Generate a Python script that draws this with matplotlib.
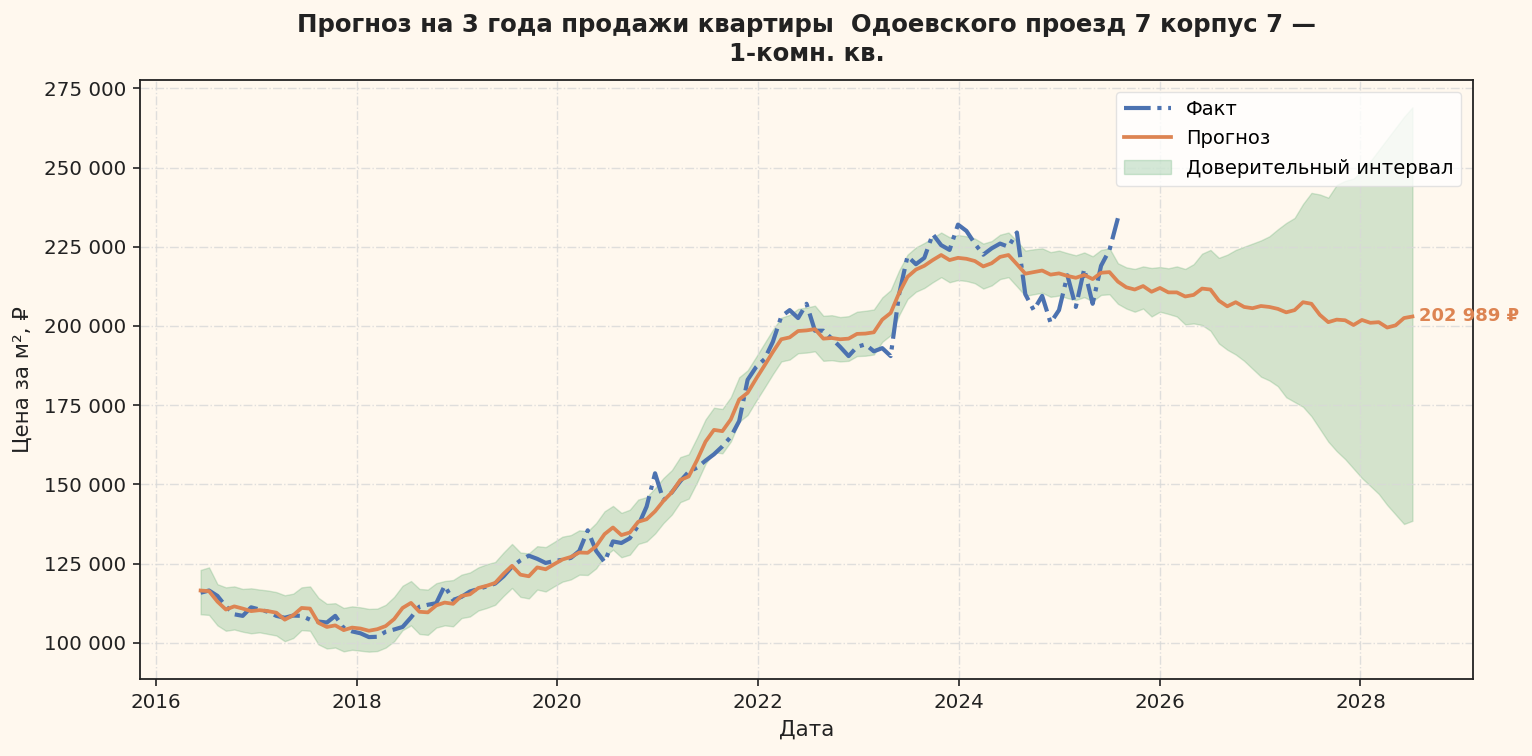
import numpy as np
import pandas as pd
import matplotlib
matplotlib.use("Agg")
import matplotlib.pyplot as plt
import matplotlib.dates as mdates
from matplotlib.ticker import FuncFormatter

# monthly points, mid-2016 .. mid-2028
dates = pd.date_range(start="2016-06-12", end="2028-07-08", periods=145)

fact = [
    115800, 116500, 114800, 111500, 109000, 108500, 111200, 110500, 109800, 108500,
    107900, 108600, 108500, 107300, 106700, 106400, 108500, 104700, 103600, 103000,
    101800, 101900, 103500, 104200, 105000, 108000, 111400, 112000, 112500, 118000,
    113500, 114500, 116200, 117000, 117800, 118700, 121000, 124000, 126000, 127500,
    126500, 125200, 125800, 126200, 126800, 129000, 135500, 129000, 125500, 132000,
    131500, 133000, 137000, 143000, 153500, 145000, 147500, 151000, 154000, 155300,
    157500, 159500, 162000, 165000, 170000, 183000, 187000, 189500, 195000, 203000,
    205000, 202500, 207000, 198500, 198500, 196000, 193400, 190500, 193400, 194200,
    192000, 193000, 190500, 210000, 222000, 219500, 221500, 229000, 225500, 224000,
    232000, 230000, 226000, 222500, 224500, 226000, 225000, 229500, 210000, 205000,
    209500, 201000, 205000, 216000, 206000, 218000, 207000, 219000, 224000, 234000,
]

forecast = [
    116500, 116300, 113000, 110500, 111500, 110800, 110000, 110300, 110000, 109500,
    107300, 108700, 111000, 110800, 106300, 105000, 105500, 104000, 104800, 104500,
    103800, 104300, 105300, 107500, 111000, 112600, 109800, 109600, 111800, 112700,
    112300, 114800, 115300, 117300, 118000, 118900, 121800, 124300, 121500, 121000,
    123800, 123200, 124800, 126300, 127100, 128500, 128400, 130500, 134300, 136400,
    134000, 134800, 138200, 139000, 141500, 144800, 147500, 151400, 152500, 157700,
    163500, 167200, 166800, 170500, 176800, 178900, 183300, 187500, 191800, 195800,
    196400, 198400, 198600, 199000, 196000, 196200, 195800, 196000, 197500, 197600,
    198000, 202000, 204100, 210400, 215500, 217800, 219000, 220800, 222400, 220800,
    221500, 221200, 220500, 218800, 219800, 221800, 222400, 219500, 216500, 217000,
    217500, 216200, 216600, 215800, 215200, 216100, 214800, 216800, 217000, 214000,
    212200, 211500, 212600, 210800, 212000, 210600, 210600, 209300, 209800, 211800,
    211500, 208000, 206200, 207500, 206000, 205600, 206300, 206000, 205400, 204300,
    205000, 207500, 207000, 203500, 201200, 202000, 201800, 200300, 201900, 201000,
    201200, 199500, 200200, 202500, 202989,
]

ci_upper = [
    123000, 123800, 118500, 117500, 117800, 117000, 117200, 116800, 116500, 116000,
    115000, 115500, 117500, 117800, 114200, 112300, 112500, 111000, 111500, 111200,
    110700, 110800, 112000, 114500, 118000, 119500, 117000, 116800, 118800, 119500,
    119800, 121500, 122200, 123800, 124800, 125500, 128500, 131200, 128500, 128200,
    130500, 130200, 131800, 133500, 134000, 135500, 135200, 137800, 141500, 143200,
    141000, 142000, 145200, 146000, 148800, 152000, 154500, 158600, 159500, 164800,
    170500, 174200, 173800, 177500, 183800, 186000, 190200, 194500, 198800, 202600,
    203500, 205400, 205800, 206400, 203200, 203400, 202800, 203100, 204500, 204800,
    205200, 209000, 211300, 217500, 222500, 224800, 226200, 227800, 229500, 228000,
    228700, 228300, 227600, 226000, 226800, 228800, 229500, 226800, 223800, 224200,
    224500, 223300, 223800, 223000, 222300, 223200, 222000, 224000, 224500, 219800,
    218500, 218000, 218800, 218300, 218600, 218200, 218800, 218000, 219500, 222800,
    224000, 221500, 222500, 224000, 225000, 226000, 227000, 228300, 230500, 232500,
    234100, 238500, 242000, 241500, 240500, 244500, 245800, 246500, 249000, 252000,
    255500, 259000, 262500, 266000, 269000,
]

ci_lower = [
    109000, 108800, 105500, 103800, 104200, 103500, 103000, 103300, 102800, 102300,
    100500, 101500, 104000, 103800, 99500, 98200, 98500, 97300, 97800, 97500,
    97200, 97400, 98500, 100500, 104000, 105500, 102800, 102500, 104800, 105500,
    105200, 107800, 108300, 110200, 111000, 112000, 114800, 117300, 114500, 114000,
    116800, 116200, 117800, 119300, 120000, 121500, 121400, 123500, 127300, 129400,
    127000, 127800, 131200, 132000, 134500, 137800, 140500, 144400, 145500, 150700,
    156500, 160200, 159800, 163500, 169800, 171900, 176300, 180500, 184800, 188800,
    189400, 191400, 191600, 192000, 189000, 189200, 188800, 189000, 190500, 190600,
    191000, 195000, 197100, 203400, 208500, 210800, 212000, 213800, 215400, 213800,
    214500, 214200, 213500, 211800, 212800, 214800, 215400, 212500, 209500, 210000,
    210500, 209200, 209600, 208800, 208200, 209100, 207800, 209800, 210000, 207000,
    205500, 204500, 205500, 203000, 204500, 203800, 203000, 200500, 200800, 200300,
    198500, 194500, 192500, 191000, 189000, 186500, 184000, 182800, 181000, 177500,
    176000, 174500, 171500, 167500, 163500, 160500, 158000, 155000, 152000, 149500,
    147000, 143500, 140500, 137500, 138500,
]

title = "Прогноз на 3 года продажи квартиры  Одоевского проезд 7 корпус 7 —\n1-комн. кв."
bg = "#fff8ee"

plt.rcParams["font.family"] = ["DejaVu Sans"]

fig, ax = plt.subplots(figsize=(15.32, 7.56), dpi=100)
fig.patch.set_facecolor(bg)
ax.set_facecolor(bg)
fig.subplots_adjust(left=0.0914, right=0.9615, top=0.894, bottom=0.102)

ax.fill_between(dates, ci_lower, ci_upper, color="#55a868", alpha=0.25,
                label="Доверительный интервал")
ax.plot(dates[:len(fact)], fact, color="#4c72b0", lw=3, ls="-.", label="Факт")
ax.plot(dates, forecast, color="#dd8452", lw=2.7, label="Прогноз")

last = forecast[-1]
ax.annotate(f"{last:,.0f} ₽".replace(",", " "), xy=(dates[-1], last),
            xytext=(5, 0), textcoords="offset points", va="center", ha="left",
            color="#dd8452", fontsize=13, fontweight="bold")

ax.xaxis.set_major_locator(mdates.YearLocator(2))
ax.xaxis.set_major_formatter(mdates.DateFormatter("%Y"))
ax.yaxis.set_major_formatter(FuncFormatter(lambda v, p: f"{v:,.0f}".replace(",", " ")))

ax.grid(True, ls="-.", color="#d8d8d8", lw=1, alpha=0.8)
ax.tick_params(axis="both", labelsize=14.3, direction="out", length=5, width=1.2,
               colors="#222222", pad=5)
for s in ax.spines.values():
    s.set_color("#222222")
    s.set_linewidth(1.3)

ax.set_xlabel("Дата", fontsize=15.4, color="#222222", labelpad=6)
ax.set_ylabel("Цена за м², ₽", fontsize=15.4, color="#222222", labelpad=8)
ax.set_title(title, fontsize=17.6, fontweight="bold", color="#222222", pad=14,
             linespacing=1.25)

h, l = ax.get_legend_handles_labels()
order = [1, 2, 0]
leg = ax.legend([h[i] for i in order], [l[i] for i in order], loc="upper right",
                fontsize=14, framealpha=0.8, facecolor="white", edgecolor="#dddddd",
                handlelength=2.4, borderaxespad=0.6, labelspacing=0.55)

fig.savefig("out.png", dpi=100, facecolor=bg)
